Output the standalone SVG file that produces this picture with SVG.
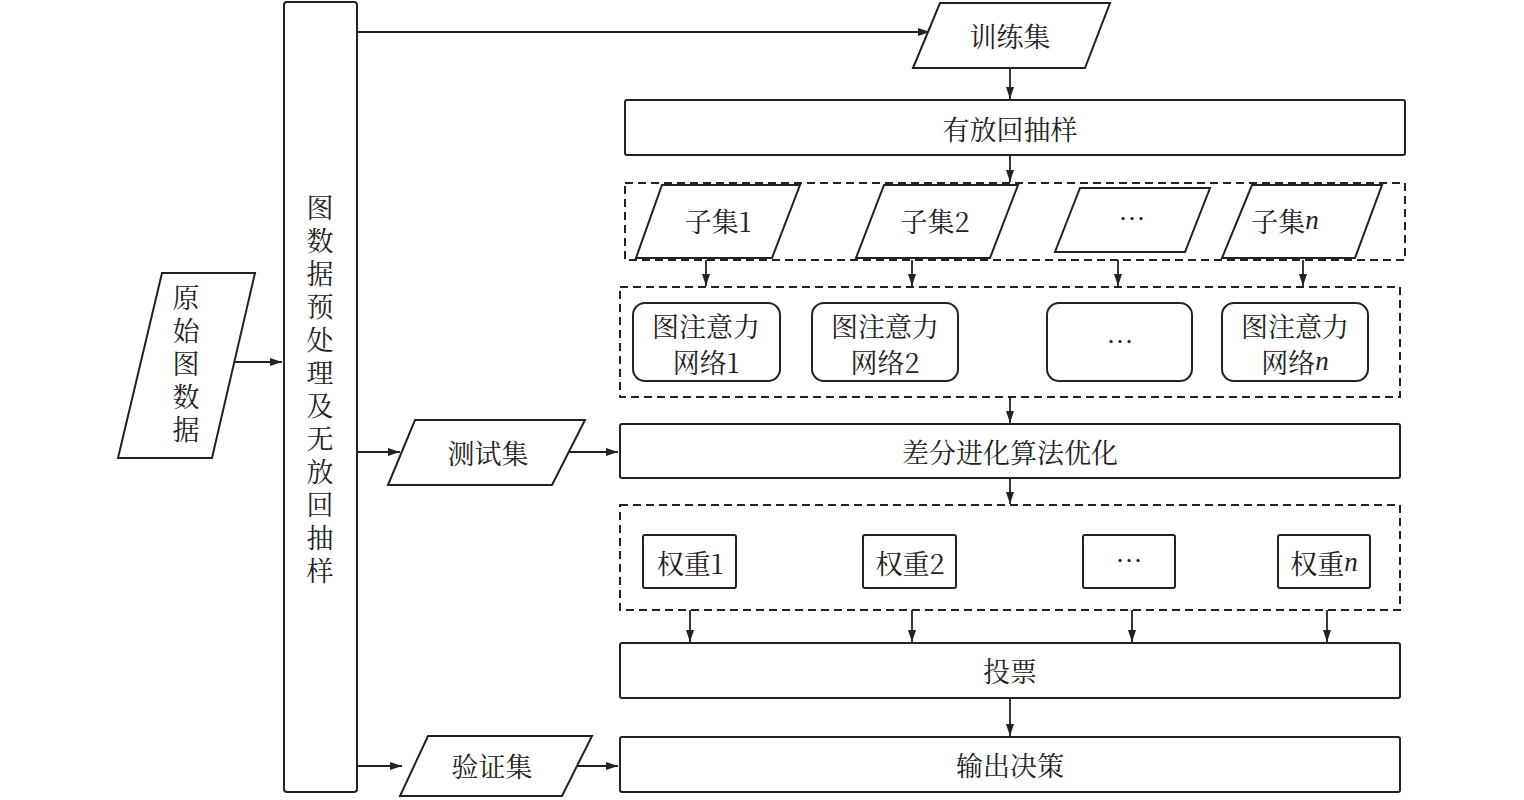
<svg xmlns="http://www.w3.org/2000/svg" width="1524" height="800" viewBox="0 0 1524 800">
<style>
.s{fill:#fff;stroke:#222;stroke-width:2}
.d{fill:none;stroke:#222;stroke-width:2;stroke-dasharray:8 5}
.c{stroke:#222;stroke-width:1.8;fill:none;marker-end:url(#a)}
text{font-family:"Noto Serif CJK SC","Noto Sans CJK SC",serif;font-size:27px;fill:#222;text-anchor:middle;dominant-baseline:central}
.v{writing-mode:vertical-rl;text-anchor:start;letter-spacing:6px}
.i{font-family:"Liberation Serif",serif;font-style:italic}
.e{font-weight:bold}
</style>
<defs><marker id="a" markerWidth="12" markerHeight="8" refX="12" refY="4" orient="auto" markerUnits="userSpaceOnUse"><path d="M0,0L12,4L0,8Z" fill="#222"/></marker></defs>
<rect width="1524" height="800" fill="#fff"/>
<g id="connectors">
<path class="c" d="M235,362H282"/>
<path class="c" d="M357,32H930"/>
<path class="c" d="M1010,68V99"/>
<path class="c" d="M1010,155V182"/>
<path class="c" d="M706,260V286"/><path class="c" d="M912,260V286"/><path class="c" d="M1118,260V286"/><path class="c" d="M1303,260V286"/>
<path class="c" d="M1010,397V423"/>
<path class="c" d="M357,452H400"/><path class="c" d="M568,452H618"/>
<path class="c" d="M1010,478V504"/>
<path class="c" d="M690,610V642"/><path class="c" d="M912,610V642"/><path class="c" d="M1132,610V642"/><path class="c" d="M1327,610V642"/>
<path class="c" d="M1010,698V736"/>
<path class="c" d="M357,766H402"/><path class="c" d="M575,766H618"/>
</g>
<g id="raw"><polygon class="s" points="162,273 255,273 212,458 118,458"/>
<text class="v" x="186" y="284">原始图数据</text></g>
<g id="pre"><rect class="s" x="284" y="2" width="73" height="790" rx="3"/>
<text class="v" x="320" y="194">图数据预处理及无放回抽样</text></g>
<g id="train"><polygon class="s" points="940,3 1110,3 1085,68 913,68"/><text x="1010" y="35">训练集</text></g>
<g id="sample"><rect class="s" x="625" y="100" width="780" height="55" rx="2"/><text x="1010" y="128">有放回抽样</text></g>
<g id="subsets"><rect class="d" x="625" y="183" width="780" height="77"/>
<polygon class="s" points="662,185 800,185 772,258 636,258"/><text x="718" y="220">子集1</text>
<polygon class="s" points="884,185 1018,185 990,258 856,258"/><text x="935" y="220">子集2</text>
<polygon class="s" points="1080,188 1210,188 1185,252 1055,252"/><text class="e" x="1132" y="217">…</text>
<polygon class="s" points="1252,185 1382,185 1355,258 1222,258"/><text x="1285" y="220">子集<tspan class="i">n</tspan></text></g>
<g id="gat"><rect class="d" x="620" y="287" width="780" height="110"/>
<rect class="s" x="633" y="303" width="147" height="78" rx="12"/><text x="706" y="325">图注意力</text><text x="706" y="361">网络1</text>
<rect class="s" x="812" y="303" width="146" height="78" rx="12"/><text x="885" y="325">图注意力</text><text x="885" y="361">网络2</text>
<rect class="s" x="1047" y="303" width="145" height="78" rx="12"/><text class="e" x="1120" y="340">…</text>
<rect class="s" x="1222" y="303" width="146" height="78" rx="12"/><text x="1295" y="325">图注意力</text><text x="1295" y="361">网络<tspan class="i">n</tspan></text></g>
<g id="test"><polygon class="s" points="415,420 585,420 552,485 388,485"/><text x="488" y="452">测试集</text></g>
<g id="de"><rect class="s" x="620" y="424" width="780" height="54" rx="2"/><text x="1010" y="451">差分进化算法优化</text></g>
<g id="weights"><rect class="d" x="620" y="505" width="780" height="105"/>
<rect class="s" x="643" y="535" width="93" height="53" rx="2"/><text x="690" y="562">权重1</text>
<rect class="s" x="863" y="535" width="93" height="53" rx="2"/><text x="910" y="562">权重2</text>
<rect class="s" x="1083" y="535" width="92" height="53" rx="2"/><text class="e" x="1129" y="559">…</text>
<rect class="s" x="1278" y="535" width="92" height="53" rx="2"/><text x="1324" y="562">权重<tspan class="i">n</tspan></text></g>
<g id="vote"><rect class="s" x="620" y="643" width="780" height="55" rx="2"/><text x="1010" y="670">投票</text></g>
<g id="val"><polygon class="s" points="428,736 592,736 562,796 400,796"/><text x="492" y="765">验证集</text></g>
<g id="out"><rect class="s" x="620" y="737" width="780" height="55" rx="2"/><text x="1010" y="764">输出决策</text></g>
</svg>
